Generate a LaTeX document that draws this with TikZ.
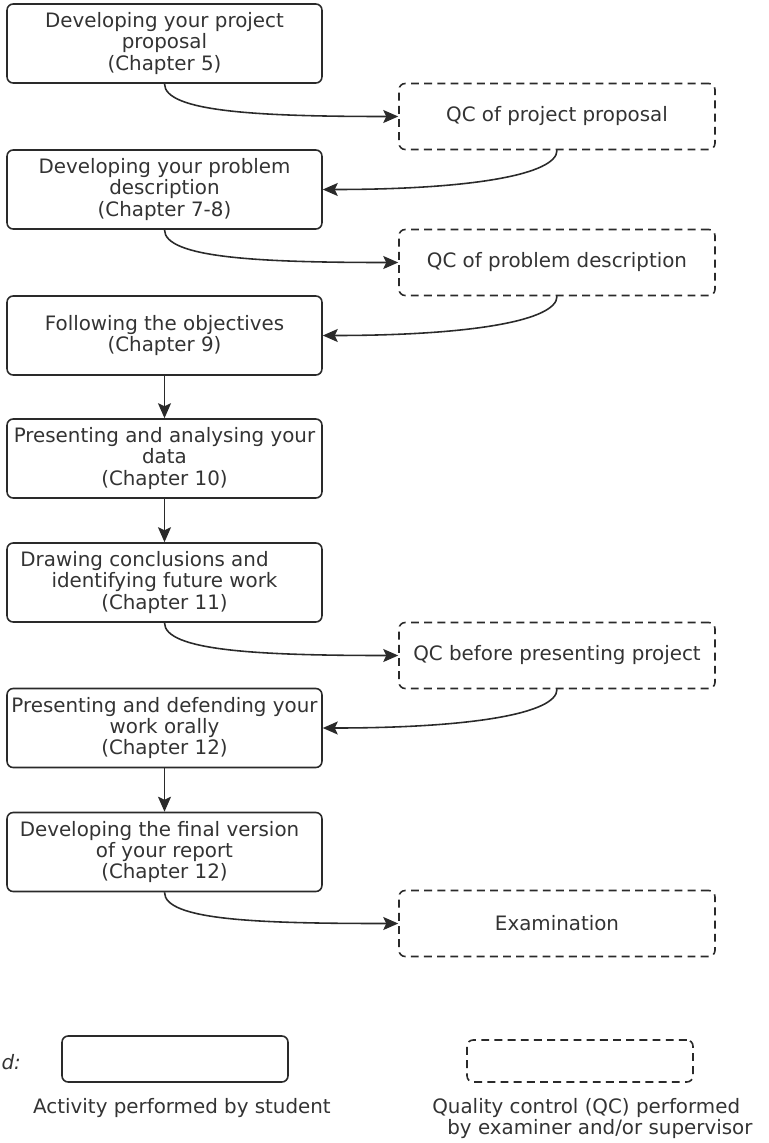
\documentclass[tikz,border=0pt]{standalone}
\usepackage{fontspec}
\setmainfont{DejaVu Sans}
\usetikzlibrary{positioning, arrows.meta}
\definecolor{linegray}{HTML}{2A2A2A}
\definecolor{textgray}{HTML}{333333}

\begin{document}
\begin{tikzpicture}[
    x=0.02cm, y=-0.02cm,
    activity/.style={rectangle, draw=linegray, line width=0.9pt, rounded corners=3.5pt,
                minimum width=6.3cm, minimum height=1.58cm, inner sep=0pt,
                align=center, text=textgray, font=\fontsize{11.3}{12.2}\selectfont},
    qcbox/.style={rectangle, draw=linegray, line width=0.9pt, rounded corners=3.5pt,
                dash pattern=on 4.5pt off 3pt, minimum width=6.32cm, minimum height=1.32cm,
                inner sep=0pt, align=center, text=textgray, font=\fontsize{11.3}{12.2}\selectfont},
    arrow/.style={-{Stealth[length=3mm, width=2.6mm, inset=0.6mm]}, line width=0.9pt, draw=linegray}
]
    \useasboundingbox (0,0) rectangle (768,1143);

    % === Activities (student) ===
    \node[activity] (proposal) at (164.5, 43.5) {Developing your project\\proposal\\(Chapter 5)};
    \node[activity] (problem) at (164.5, 189.5) {Developing your problem\\description\\(Chapter 7-8)};
    \node[activity] (objectives) at (164.5, 335.5) {Following the objectives\\(Chapter 9)};
    \node[activity] (data) at (164.5, 458.5) {Presenting and analysing your\\data\\(Chapter 10)};
    \node[activity] (conclusions) at (164.5, 582.5) {Drawing conclusions and\hspace*{0.8cm}\\identifying future work\\(Chapter 11)};
    \node[activity] (oral) at (164.5, 728) {Presenting and defending your\\work orally\\(Chapter 12)};
    \node[activity] (report) at (164.5, 852) {Developing the final version\hspace*{0.2cm}\\of your report\\(Chapter 12)};

    % === Quality control ===
    \node[qcbox] (qcproposal) at (557, 116.5) {QC of project proposal};
    \node[qcbox] (qcproblem) at (557, 262.5) {QC of problem description};
    \node[qcbox] (qcpresent) at (557, 655.5) {QC before presenting project};
    \node[qcbox] (exam) at (557, 923.5) {Examination};

    % Out to QC
    \draw[arrow] (proposal.south) .. controls +(0,28) and +(-140,0) .. (qcproposal.west);
    \draw[arrow] (problem.south) .. controls +(0,28) and +(-140,0) .. (qcproblem.west);
    \draw[arrow] (conclusions.south) .. controls +(0,28) and +(-140,0) .. (qcpresent.west);
    \draw[arrow] (report.south) .. controls +(0,28) and +(-140,0) .. (exam.west);

    % Back from QC
    \draw[arrow] (qcproposal.south) .. controls +(0,24) and +(150,0) .. (problem.east);
    \draw[arrow] (qcproblem.south) .. controls +(0,24) and +(150,0) .. (objectives.east);
    \draw[arrow] (qcpresent.south) .. controls +(0,24) and +(150,0) .. (oral.east);

    % Straight steps
    \draw[arrow] (objectives.south) -- (data.north);
    \draw[arrow] (data.south) -- (conclusions.north);
    \draw[arrow] (oral.south) -- (report.north);

    % === Legend ===
    \node[anchor=east, text=textgray, font=\fontsize{11.3}{12.2}\selectfont\itshape] (legend) at (27, 1062) {d:};
    \node[activity, minimum width=4.52cm, minimum height=0.92cm] (legact) at (175, 1059) {};
    \node[qcbox, minimum width=4.52cm, minimum height=0.84cm] (legqc) at (580, 1061) {};
    \node[text=textgray, font=\fontsize{11.3}{12.2}\selectfont] (legacttext) at (182, 1108) {Activity performed by student};
    \node[anchor=north west, inner sep=0pt, align=left, text=textgray,
          font=\fontsize{11.3}{10.4}\selectfont] (legqctext) at (432, 1098)
          {Quality control (QC) performed\\\hspace*{0.3cm}by examiner and/or supervisor};
\end{tikzpicture}
\end{document}
